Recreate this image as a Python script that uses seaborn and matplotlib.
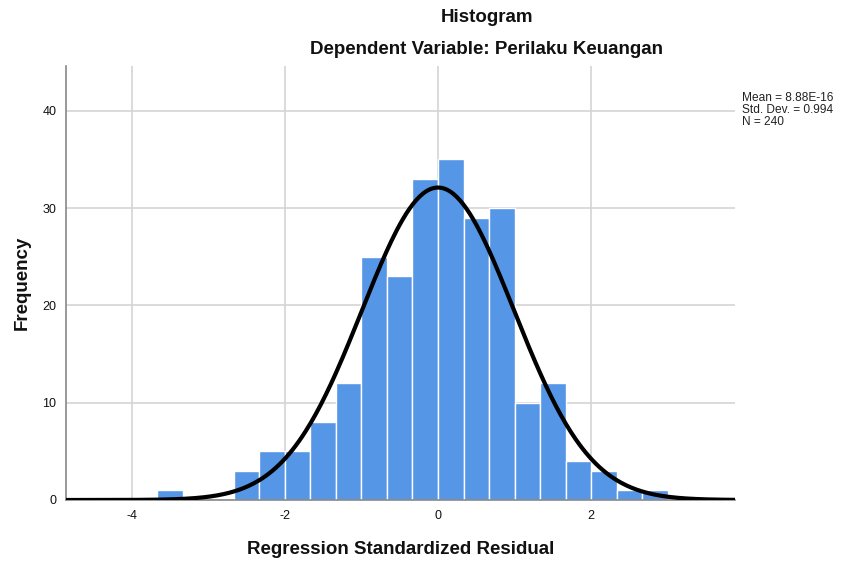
import numpy as np
import pandas as pd
import matplotlib
matplotlib.use("Agg")
import matplotlib.pyplot as plt
import seaborn as sns

# histogram of regression standardized residuals
bin_width = 1 / 3
bin_left = [-11, -8, -7, -6, -5, -4, -3, -2, -1, 0, 1, 2, 3, 4, 5, 6, 7, 8]  # in thirds
counts = [1, 3, 5, 5, 8, 12, 25, 23, 33, 35, 29, 30, 10, 12, 4, 3, 1, 1]
mean_val = 8.88e-16
std_val = 0.994
n_total = 240
x_ticks = [-4, -2, 0, 2]
y_ticks = [0, 10, 20, 30, 40]

sns.set_style("white")
plt.rcParams["font.family"] = ["Liberation Sans", "DejaVu Sans"]
plt.rcParams["axes.unicode_minus"] = False

bar_color = "#5596e6"
grid_color = "#d4d4d4"
txt = "#111111"

centers = [(b + 0.5) * bin_width for b in bin_left]
df = pd.DataFrame({"resid": centers, "freq": counts})

fig = plt.figure(figsize=(8.43, 5.65), dpi=100)
ax = fig.add_axes([66 / 843, 1 - 500 / 565, (735 - 66) / 843, (500 - 66) / 565])

sns.histplot(data=df, x="resid", weights="freq", binwidth=bin_width,
             binrange=(-11 * bin_width, 9 * bin_width), color=bar_color,
             alpha=1, edgecolor="white", linewidth=1, ax=ax, zorder=2)

# normal curve scaled to the counts
xs = np.linspace(-4.86, 3.88, 400)
ys = n_total * bin_width / (std_val * np.sqrt(2 * np.pi)) * np.exp(-0.5 * ((xs - mean_val) / std_val) ** 2)
sns.lineplot(x=xs, y=ys, color="black", linewidth=3, ax=ax, zorder=3)

ax.set_xlim(-4.86, 3.88)
ax.set_ylim(0, 44.6)
ax.set_xticks(x_ticks)
ax.set_yticks(y_ticks)
ax.grid(True, color=grid_color, linewidth=1.2, zorder=0)
ax.set_axisbelow(True)
ax.tick_params(length=0, labelsize=9, pad=7, colors=txt)
for s in ["top", "right"]:
    ax.spines[s].set_visible(False)
for s in ["left", "bottom"]:
    ax.spines[s].set_color("#888888")
    ax.spines[s].set_linewidth(1.2)

ax.set_xlabel("Regression Standardized Residual", fontsize=13.5, fontweight="bold",
              labelpad=14, color=txt)
ax.set_ylabel("Frequency", fontsize=13.5, fontweight="bold", labelpad=8, color=txt)

fig.text(487 / 843, 1 - 17 / 565, "Histogram", ha="center", va="center",
         fontsize=13.5, fontweight="bold", color=txt)
fig.text(487 / 843, 1 - 50 / 565, "Dependent Variable: Perilaku Keuangan", ha="center",
         va="center", fontsize=13.5, fontweight="bold", color=txt)
fig.text(742 / 843, 1 - 92 / 565,
         "Mean = 8.88E-16\nStd. Dev. = 0.994\nN = %d" % n_total,
         ha="left", va="top", fontsize=8.6, linespacing=1.0, color="#222222")

fig.savefig("out.png", dpi=100, facecolor="white")
